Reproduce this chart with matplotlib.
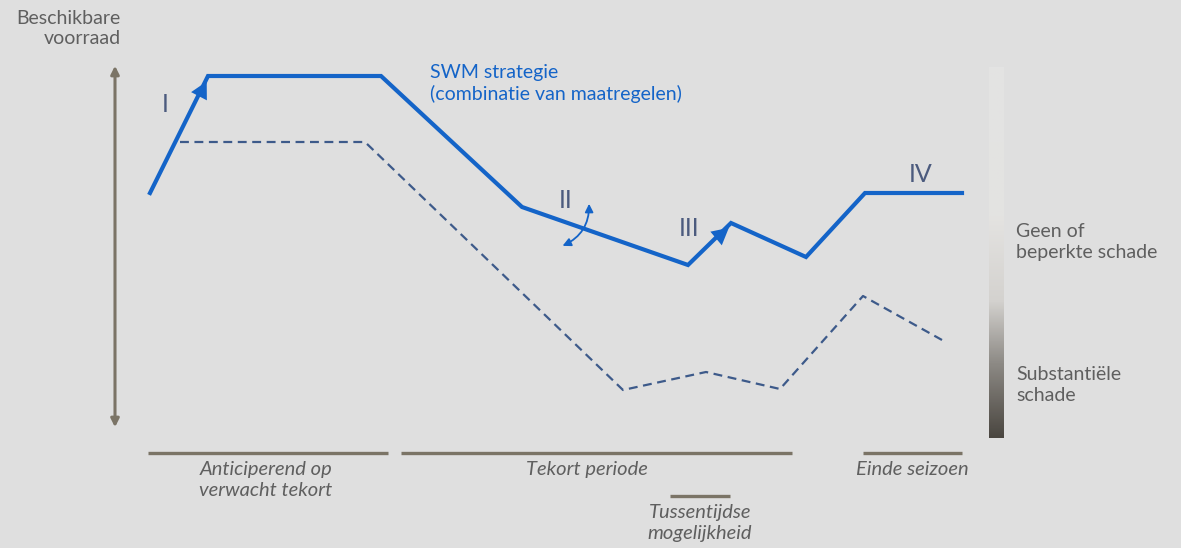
import numpy as np
import matplotlib.pyplot as plt
from matplotlib.patches import FancyArrowPatch
from matplotlib.colors import LinearSegmentedColormap

# schematic positions (pixel-like units, y grows downward)
swm_x = [150, 208, 381, 522, 688, 731, 806, 865, 962]
swm_y = [193, 76, 76, 207, 265, 223, 257, 193, 193]

base_x = [180, 365, 623, 706, 780, 863, 942]
base_y = [142, 142, 390, 372, 389, 296, 340]

numerals = ["I", "II", "III", "IV"]
numeral_x = [165, 566, 689, 921]
numeral_y = [104, 200, 229, 174]

phase_labels = ["Anticiperend op\nverwacht tekort", "Tekort periode", "Einde seizoen",
                "Tussentijdse\nmogelijkheid"]
phase_start = [148, 401, 863, 670]
phase_end = [388, 792, 962, 730]
phase_line_y = [453, 453, 453, 496]

BG = "#dfdfdf"
BLUE = "#1464c8"
DASH = "#3d5a8a"
AXIS = "#7b7466"
TXT = "#5f5f5f"
ROMAN = "#4c5b7e"

plt.rcParams["font.family"] = ["Lato", "DejaVu Sans"]

fig = plt.figure(figsize=(11.81, 5.48), dpi=100)
fig.patch.set_facecolor(BG)
ax = fig.add_axes([0, 0, 1, 1])
ax.set_facecolor(BG)
ax.set_xlim(0, 1181)
ax.set_ylim(548, 0)
ax.axis("off")

# y axis double arrow
ax.add_patch(FancyArrowPatch((115, 430), (115, 63), arrowstyle="<|-|>",
                             mutation_scale=12, color=AXIS, lw=2.2))
ax.text(121, 10, "Beschikbare\nvoorraad", ha="right", va="top", fontsize=14,
        color=TXT, linespacing=1.25)

# baseline scenario (dashed)
ax.plot(base_x, base_y, color=DASH, lw=1.6, ls=(0, (4, 2.5)))

# SWM strategy line
ax.plot(swm_x, swm_y, color=BLUE, lw=3, solid_joinstyle="miter")
# arrowheads on segments I and III
for i in [0, 4]:
    x0, y0, x1, y1 = swm_x[i], swm_y[i], swm_x[i + 1], swm_y[i + 1]
    ax.add_patch(FancyArrowPatch((x0 + 0.5 * (x1 - x0), y0 + 0.5 * (y1 - y0)), (x1, y1 + 3),
                                 arrowstyle="-|>,head_length=0.75,head_width=0.4",
                                 mutation_scale=16, color=BLUE, lw=0))
ax.text(430, 64, "SWM strategie\n(combinatie van maatregelen)", ha="left", va="top",
        fontsize=14, color=BLUE, linespacing=1.25)

# curved double arrow at II
ax.add_patch(FancyArrowPatch((560, 247), (589, 201), arrowstyle="<|-|>",
                             connectionstyle="arc3,rad=0.35", mutation_scale=12,
                             color=BLUE, lw=1.3))

for s, x, y in zip(numerals, numeral_x, numeral_y):
    ax.text(x, y, s, ha="center", va="center", fontsize=18, color=ROMAN)

# damage gradient bar
cmap = LinearSegmentedColormap.from_list(
    "dmg", [(0, "#4a4640"), (0.2, "#8d8a85"), (0.37, "#d4d2cf"), (0.6, "#e4e3e1"), (1, "#e3e3e3")])
grad = np.linspace(0, 1, 256).reshape(-1, 1)
ax.imshow(grad, extent=[989, 1004, 438, 67], origin="lower", cmap=cmap, aspect="auto")
ax.text(1016, 242, "Geen of\nbeperkte schade", ha="left", va="center", fontsize=14,
        color=TXT, linespacing=1.25)
ax.text(1016, 385, "Substantiële\nschade", ha="left", va="center", fontsize=14,
        color=TXT, linespacing=1.25)

# phase bars
for lab, x0, x1, y in zip(phase_labels, phase_start, phase_end, phase_line_y):
    ax.plot([x0, x1], [y, y], color=AXIS, lw=2.4, solid_capstyle="butt")
label_x = [266, 587, 912, 700]
for lab, x, y in zip(phase_labels, label_x, phase_line_y):
    ax.text(x, y + 8, lab, ha="center", va="top", fontsize=14.5, style="italic",
            color=TXT, linespacing=1.3)

fig.savefig("out.png", dpi=100, facecolor=BG)
